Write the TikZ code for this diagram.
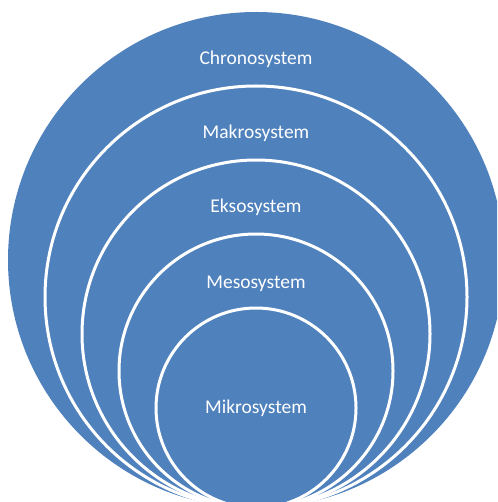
\documentclass[tikz,border=0pt]{standalone}
\usepackage{fontspec}
\setmainfont{Carlito}
\definecolor{ringblue}{HTML}{4F81BD}
\begin{document}
\begin{tikzpicture}[x=1pt,y=-1pt,
  ring/.style={fill=ringblue,draw=white,line width=3pt},
  lbl/.style={text=white,font=\fontsize{19.5}{22}\selectfont,anchor=base,inner sep=0pt}]
\useasboundingbox (0,0) rectangle (497,502);
\clip (0,0) rectangle (497,502);
\fill[ringblue] (256,260) circle[radius=248];
\node[ring,circle,minimum size=422pt,inner sep=0pt] (makro) at (256,297) {};
\node[ring,circle,minimum size=348pt,inner sep=0pt] (ekso) at (256,334) {};
\node[ring,circle,minimum size=274pt,inner sep=0pt] (meso) at (256,371) {};
\node[ring,circle,minimum size=200pt,inner sep=0pt] (mikro) at (256,408) {};
\node[lbl] (tchrono) at (256,65) {Chronosystem};
\node[lbl] (tmakro) at (256,139) {Makrosystem};
\node[lbl] (tekso) at (256,213) {Eksosystem};
\node[lbl] (tmeso) at (256,288) {Mesosystem};
\node[lbl] (tmikro) at (256,413) {Mikrosystem};
\end{tikzpicture}
\end{document}
